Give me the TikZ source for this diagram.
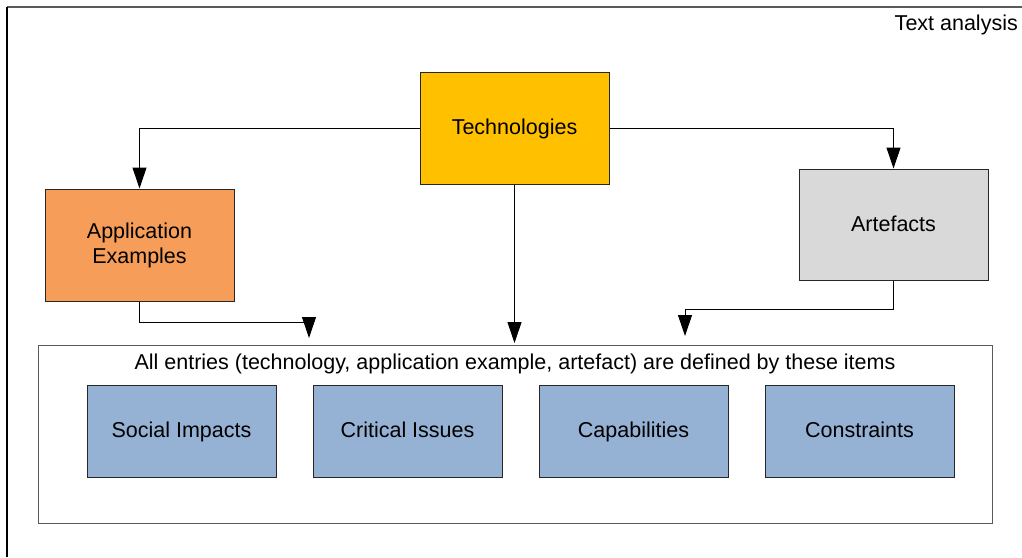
\documentclass[tikz,border=0pt]{standalone}
\usepackage{fontspec}
\setmainfont{Liberation Sans}
\usetikzlibrary{arrows.meta}
\definecolor{techc}{HTML}{FFC000}
\definecolor{appc}{HTML}{F79D5A}
\definecolor{artc}{HTML}{D9D9D9}
\definecolor{bluec}{HTML}{95B1D3}
\definecolor{framec}{HTML}{5A5A5A}
\begin{document}
\begin{tikzpicture}[x=1pt,y=-1pt,
  box/.style={draw=black!85,line width=1pt,minimum width=189pt,minimum height=112pt,inner sep=0pt,align=center,font=\fontsize{21.5}{25}\selectfont},
  single/.style={text height=15.5pt,text depth=2pt},
  sub/.style={box,single,fill=bluec,minimum height=92pt},
  lbl/.style={font=\fontsize{21.5}{25}\selectfont,inner sep=0pt},
  arr/.style={-{Triangle[length=21pt,width=14pt]},line width=1pt}]
\useasboundingbox (0,0) rectangle (1022,557);
\draw[line width=1.3pt, framec] (7,7) -- (1022,7);
\draw[line width=1.3pt] (7,7) -- (7,557);
\node[lbl, single, anchor=east] (title) at (1018,24) {Text analysis};
\node[box, single, fill=techc] (tech) at (514.5,128) {Technologies};
\node[box, fill=appc] (app) at (139.5,245) {Application\\Examples};
\node[box, single, fill=artc, minimum height=111pt] (art) at (893.5,224.5) {Artefacts};
\node[draw=framec, line width=1pt, minimum width=954pt, minimum height=178pt, inner sep=0pt] (cont) at (515,434) {};
\node[lbl, single] (conttext) at (515,363) {All entries (technology, application example, artefact) are defined by these items};
\node[sub] (soc) at (181.5,431) {Social Impacts};
\node[sub] (crit) at (407.5,431) {Critical Issues};
\node[sub] (cap) at (633.5,431) {Capabilities};
\node[sub] (cons) at (859.5,431) {Constraints};
\draw[arr] (tech.west) -| (app.north);
\draw[arr] (tech.east) -| (art.north);
\coordinate (t1) at (514.5,343);
\draw[arr] (tech.south) -- (t1);
\coordinate (a1) at (309,322);
\coordinate (a2) at (309,338);
\draw[arr] (app.south) |- (a1) -- (a2);
\coordinate (b1) at (685,309);
\coordinate (b2) at (685,336);
\draw[arr] (art.south) |- (b1) -- (b2);
\end{tikzpicture}
\end{document}
